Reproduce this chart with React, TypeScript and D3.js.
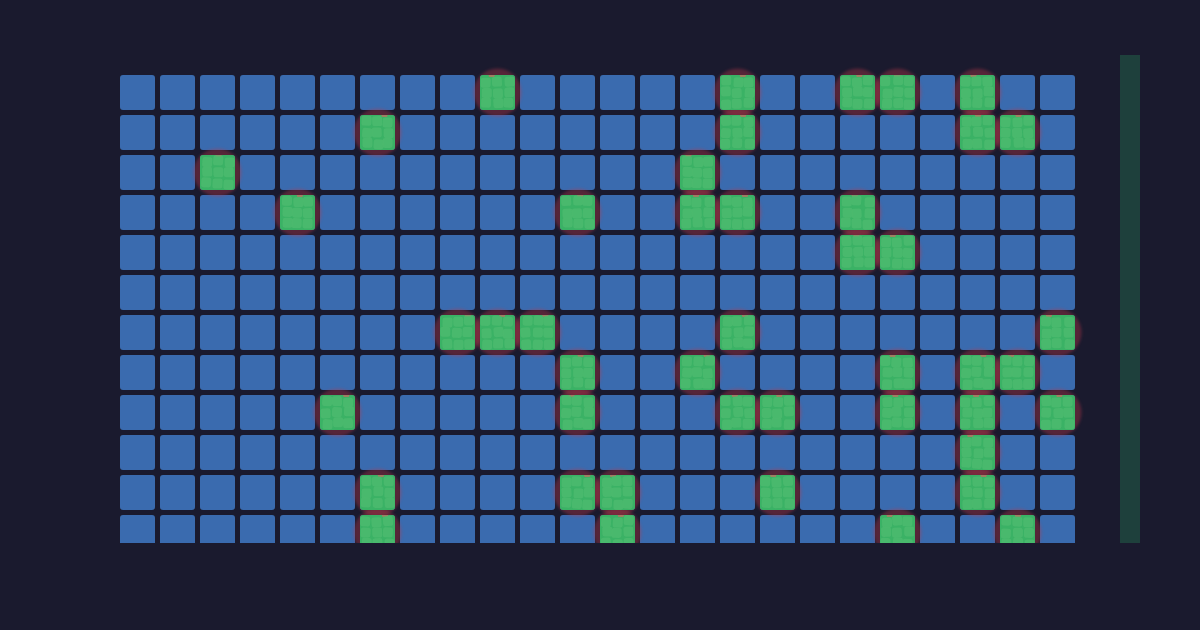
import React from "react";
import * as d3 from "d3";

const COLS = 24;
const ROWS = 12;
const rowIndex = d3.range(ROWS);
const colIndex = d3.range(COLS);

// active (green) cells per row: column indices
const activeRow0 = [9, 15, 18, 19, 21];
const activeRow1 = [6, 15, 21, 22];
const activeRow2 = [2, 14];
const activeRow3 = [4, 11, 14, 15, 18];
const activeRow4 = [18, 19];
const activeRow5: number[] = [];
const activeRow6 = [8, 9, 10, 15, 23];
const activeRow7 = [11, 14, 19, 21, 22];
const activeRow8 = [5, 11, 15, 16, 19, 21, 23];
const activeRow9 = [21];
const activeRow10 = [6, 11, 12, 16, 21];
const activeRow11 = [6, 12, 19, 22];
const activeRows = [activeRow0, activeRow1, activeRow2, activeRow3, activeRow4, activeRow5, activeRow6, activeRow7, activeRow8, activeRow9, activeRow10, activeRow11];

function hash(n: number) {
  const s = Math.sin(n * 12.9898 + 78.233) * 43758.5453;
  return s - Math.floor(s);
}

export default function App() {
  const W = 1200, H = 630;
  const x = d3.scaleLinear().domain([0, 1]).range([120, 160]);
  const y = d3.scaleLinear().domain([0, 1]).range([75, 115]);
  const bw = 35;
  const cells = rowIndex.flatMap((r) => colIndex.map((c) => ({ r, c, on: activeRows[r].includes(c) })));
  const on = cells.filter((d) => d.on);
  return (
    <svg width={W} height={H} style={{ position: "absolute", left: 0, top: 0, background: "#1a1a2e" }}>
      <defs>
        <clipPath id="plot"><rect x={100} y={55} width={1000} height={488} /></clipPath>
        <filter id="glow" x="-50%" y="-50%" width="200%" height="200%"><feGaussianBlur stdDeviation="1.5" /></filter>
        {on.map((d, i) => (
          <clipPath key={i} id={`cc${i}`}><rect x={x(d.c)} y={y(d.r)} width={bw} height={bw} rx={3} /></clipPath>
        ))}
      </defs>
      <rect x={0} y={0} width={W} height={H} fill="#1a1a2e" />
      <rect x={1120} y={55} width={20} height={488} fill="#1e403c" />
      <g clipPath="url(#plot)">
        {cells.map((d) => (
          <rect key={`${d.r}-${d.c}`} x={x(d.c)} y={y(d.r)} width={bw} height={bw} rx={3} fill="#3a6baf" />
        ))}
        {on.map((d, i) => (
          <circle key={`g${i}`} cx={x(d.c) + bw / 2} cy={y(d.r) + bw / 2} r={24} fill="#b8384a" opacity={0.38} filter="url(#glow)" />
        ))}
        {on.map((d, i) => {
          const x0 = x(d.c), y0 = y(d.r);
          const subs = d3.range(9).map((k) => {
            const sx = k % 3, sy = Math.floor(k / 3);
            const seed = d.r * 100 + d.c * 10 + k;
            return {
              k,
              x: x0 + 1.5 + sx * 11 + (hash(seed) - 0.5) * 2.5,
              y: y0 + 1.5 + sy * 11 + (hash(seed + 0.37) - 0.5) * 2.5,
              a: (hash(seed + 0.71) - 0.5) * 8,
            };
          });
          return (
            <g key={`on${i}`}>
              <rect x={x0} y={y0} width={bw} height={bw} rx={3} fill="#3ab265" />
              <g clipPath={`url(#cc${i})`}>
                <rect x={x0 + 5 + hash(i) * 20} y={y0 - 1} width={6} height={3} rx={1} fill="#e06060" opacity={0.6} />
                {subs.map((s) => (
                  <rect key={s.k} x={s.x} y={s.y} width={10} height={10} rx={2.5} fill="#4cba6e"
                    transform={`rotate(${s.a} ${s.x + 5} ${s.y + 5})`} opacity={0.85} />
                ))}
              </g>
            </g>
          );
        })}
      </g>
    </svg>
  );
}
